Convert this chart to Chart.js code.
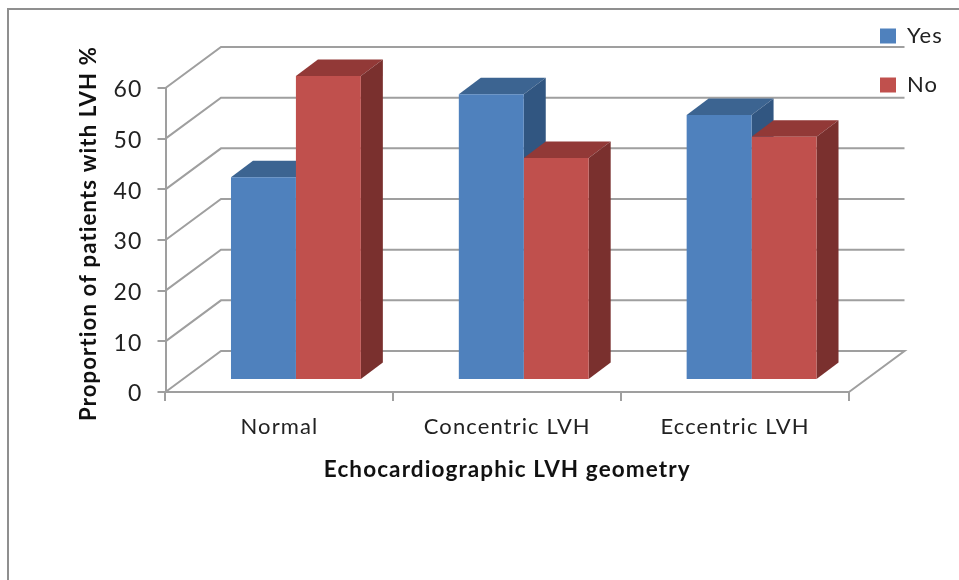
<!DOCTYPE html>
<html>
<head>
<meta charset="utf-8">
<title>LVH geometry</title>
<script src="https://cdn.jsdelivr.net/npm/chart.js@4/dist/chart.umd.min.js"></script>
<style>
  html,body{margin:0;padding:0;background:#fff;overflow:hidden;width:959px;height:580px}
  #frame{position:absolute;left:7px;top:8px;width:1000px;height:700px;border:2px solid #8f8f8f}
  #chart{position:absolute;left:0;top:0}
</style>
</head>
<body>
<div id="frame"></div>
<canvas id="chart" width="959" height="580"></canvas>
<script>
const categories = ["Normal", "Concentric LVH", "Eccentric LVH"];
const yesValues = [40, 56.4, 52.3];
const noValues = [60, 43.8, 48];
const yTicks = [0, 10, 20, 30, 40, 50, 60];

const FONT = "Lato";
const GRID = "#9f9f9f";
const TEXT = "#222";

// oblique projection: wall sits behind the axes, bars stand part way in
const wall = {dx: 55.5, dy: 41};
const shift = {dx: 16.5, dy: 12};
const depth = {dx: 22, dy: 16.5};

const faces = [
  {top: "#3c6491", side: "#315681"},
  {top: "#923937", side: "#7a302e"}
];

function poly(ctx, pts, color){
  ctx.fillStyle = color;
  ctx.beginPath();
  pts.forEach((p, i) => i ? ctx.lineTo(p[0], p[1]) : ctx.moveTo(p[0], p[1]));
  ctx.closePath();
  ctx.fill();
}

const wallPlugin = {
  id: "wall",
  beforeDraw(chart){
    chart.ctx.letterSpacing = "1.1px";
  },
  beforeDatasetsDraw(chart){
    const {ctx, chartArea: a, scales: {y}} = chart;
    ctx.save();
    ctx.strokeStyle = GRID;
    ctx.lineWidth = 2;
    yTicks.forEach(v => {
      const py = y.getPixelForValue(v);
      ctx.beginPath();
      ctx.moveTo(a.left, py);
      ctx.lineTo(a.left + wall.dx, py - wall.dy);
      ctx.lineTo(a.right + wall.dx, py - wall.dy);
      if (v === 0) ctx.lineTo(a.right, py);
      ctx.stroke();
    });
    ctx.restore();

    // tops and sides go first, the library then paints the front faces
    ctx.save();
    ctx.translate(shift.dx, -shift.dy);
    chart.data.datasets.forEach((ds, i) => {
      chart.getDatasetMeta(i).data.forEach(bar => {
        const l = bar.x - bar.width / 2, r = bar.x + bar.width / 2;
        poly(ctx, [[l, bar.y], [l + depth.dx, bar.y - depth.dy], [r + depth.dx, bar.y - depth.dy], [r, bar.y]], faces[i].top);
        poly(ctx, [[r, bar.y], [r + depth.dx, bar.y - depth.dy], [r + depth.dx, bar.base - depth.dy], [r, bar.base]], faces[i].side);
      });
    });
  },
  afterDatasetsDraw(chart){
    chart.ctx.restore();
  },
  afterLayout(chart){
    // legend lives in the top right corner, outside the plot
    const lg = chart.legend, pad = lg.options.labels.padding;
    lg.left = 880 - pad;
    lg.right = 959;
    lg.top = 25 - pad;
    lg.bottom = 200;
  }
};

new Chart(document.getElementById("chart"), {
  type: "bar",
  data: {
    labels: categories,
    datasets: [
      {label: "Yes", data: yesValues, backgroundColor: "#4f81bd"},
      {label: "No", data: noValues, backgroundColor: "#c0504d"}
    ]
  },
  options: {
    responsive: false,
    animation: false,
    layout: {padding: {left: 76, top: 88, right: 110, bottom: 0}},
    datasets: {bar: {categoryPercentage: 0.57, barPercentage: 1, clip: false}},
    plugins: {
      tooltip: {enabled: false},
      legend: {
        position: "chartArea",
        align: "start",
        labels: {
          boxWidth: 16, boxHeight: 15, padding: 27,
          color: TEXT,
          font: {family: FONT, size: 22}
        }
      }
    },
    scales: {
      x: {
        afterFit(s){ s.height = 188; },
        grid: {drawOnChartArea: false, color: GRID, lineWidth: 2, tickLength: 9},
        border: {color: GRID, width: 2},
        ticks: {color: TEXT, padding: 13, maxRotation: 0, font: {family: FONT, size: 22}},
        title: {
          display: true,
          text: "Echocardiographic LVH geometry",
          color: "#111",
          font: {family: FONT, size: 22.5, weight: "bold"},
          padding: {top: 0, bottom: 97}
        }
      },
      y: {
        min: 0,
        max: 60,
        afterFit(s){ s.width = 89.5; },
        afterBuildTicks(s){ s.ticks = yTicks.map(v => ({value: v})); },
        grid: {drawOnChartArea: false, color: GRID, lineWidth: 2, tickLength: 8},
        border: {color: GRID, width: 2},
        ticks: {color: TEXT, padding: 15, labelOffset: 2, font: {family: FONT, size: 23}},
        title: {
          display: true,
          // the two leading spaces lift the label a little along the axis
          text: "  Proportion of patients with LVH %",
          color: "#111",
          font: {family: FONT, size: 22.2, weight: "bold"},
          padding: {top: 0, bottom: 0}
        }
      }
    }
  },
  plugins: [wallPlugin]
});
</script>
</body>
</html>
